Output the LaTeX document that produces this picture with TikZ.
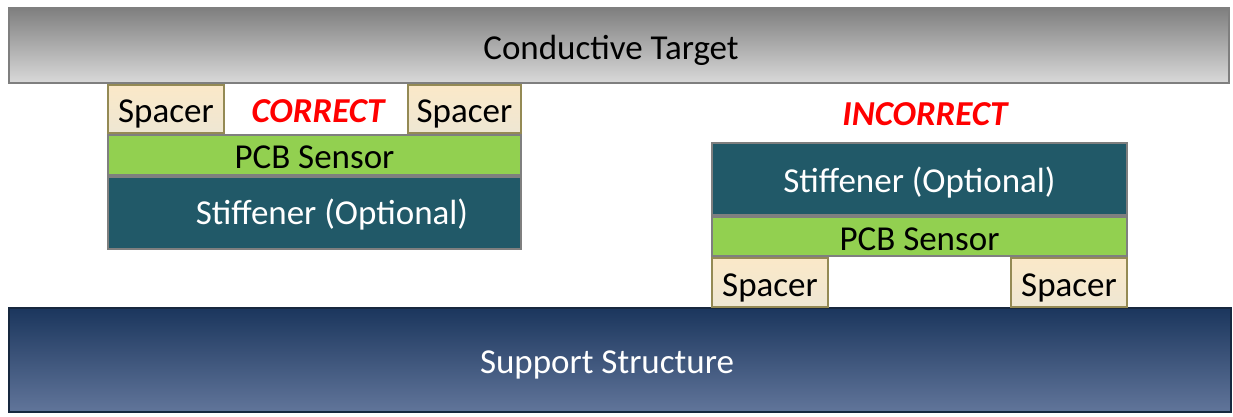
\documentclass[tikz,border=0pt]{standalone}
\usepackage{fontspec}
\setmainfont{Carlito}
\definecolor{gTop}{HTML}{7F7F7F}
\definecolor{gBot}{HTML}{D9D9D9}
\definecolor{sTop}{HTML}{1B365D}
\definecolor{sBot}{HTML}{61759A}
\definecolor{sEdge}{HTML}{17283F}
\definecolor{spTop}{HTML}{FBE8C8}
\definecolor{spBot}{HTML}{EEE7D3}
\definecolor{spEdge}{HTML}{948A54}
\definecolor{pcbG}{HTML}{92D050}
\definecolor{stiff}{HTML}{215968}
\definecolor{edgeG}{HTML}{7F7F7F}
\definecolor{warnR}{HTML}{FF0000}
\begin{document}
\begin{tikzpicture}[x=1pt,y=-1pt,
  every node/.style={font=\fontsize{35}{38}\selectfont, inner sep=0pt, outer sep=0pt,
    text height=31pt, text depth=4pt},
  blk/.style={rectangle, line width=2pt},
  targetbox/.style={blk, draw=edgeG, top color=gTop, bottom color=gBot, text=black},
  supportbox/.style={blk, draw=sEdge, top color=sTop, bottom color=sBot, text=white},
  spacerbox/.style={blk, draw=spEdge, top color=spTop, bottom color=spBot, text=black},
  pcbbox/.style={blk, draw=edgeG, fill=pcbG, text=black},
  stiffbox/.style={blk, draw=edgeG, fill=stiff, text=white},
  verdict/.style={text=warnR, font=\fontsize{35}{38}\selectfont\bfseries\itshape}]
\useasboundingbox (0,0) rectangle (1233,416);
\fill[white] (0,0) rectangle (1233,416);
% target and support
\node[targetbox, minimum width=1220, minimum height=75] (target) at (619,45.5) {};
\node[text=black] (targettxt) at (611,45.5) {Conductive Target};
\node[supportbox, minimum width=1222, minimum height=104] (support) at (620,360) {};
\node[text=white] (supporttxt) at (607,360) {Support Structure};
% correct stack
\node[spacerbox, minimum width=116, minimum height=48] (lsp1) at (166,109) {Spacer};
\node[spacerbox, minimum width=113, minimum height=48] (lsp2) at (464.5,109) {Spacer};
\node[verdict] (correct) at (318,109) {CORRECT};
\node[pcbbox, minimum width=413, minimum height=40] (lpcb) at (314.5,155) {PCB Sensor};
\node[stiffbox, minimum width=413, minimum height=72] (lstiff) at (314.5,213) {};
\node[text=white] (lstifftxt) at (332,211) {Stiffener (Optional)};
% incorrect stack
\node[verdict] (incorrect) at (925,112) {INCORRECT};
\node[stiffbox, minimum width=415, minimum height=72] (rstiff) at (919.5,179) {Stiffener (Optional)};
\node[pcbbox, minimum width=415, minimum height=39] (rpcb) at (919.5,236.5) {PCB Sensor};
\node[spacerbox, minimum width=116, minimum height=49] (rsp1) at (770,282.5) {Spacer};
\node[spacerbox, minimum width=116, minimum height=49] (rsp2) at (1069,282.5) {Spacer};
\end{tikzpicture}
\end{document}
